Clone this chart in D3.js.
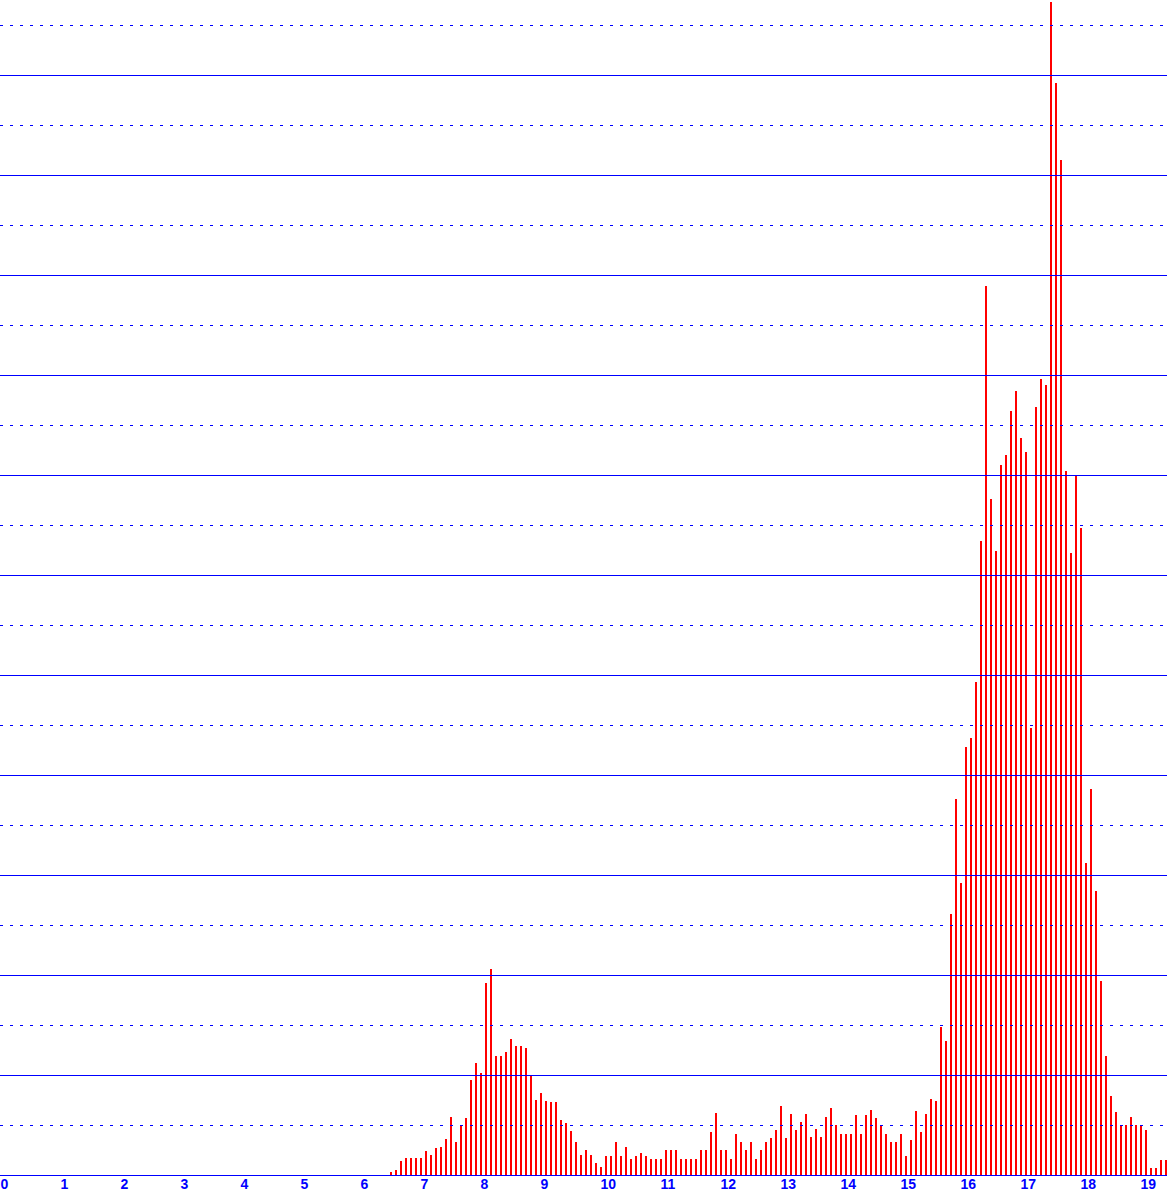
<!DOCTYPE html>
<html>
<head>
<meta charset="utf-8">
<script src="https://cdn.jsdelivr.net/npm/d3@7"></script>
<style>
  html, body { margin: 0; padding: 0; background: #fff; }
  svg { display: block; }
</style>
</head>
<body>
<script>
// ---- data ----
const binStep = 1 / 12;          // width of one bin in x units
const firstBin = 6.5;            // x value of the first non-empty bin
const counts = [
  0.3, 0.5, 1.4, 1.7, 1.7, 1.7, 1.7, 2.4, 2.0, 2.7, 2.8, 3.6,
  5.8, 3.3, 5.0, 5.7, 9.5, 11.2, 10.2, 19.2, 20.6, 11.9, 11.9, 12.3,
  13.6, 12.9, 12.9, 12.7, 9.9, 7.5, 8.2, 7.4, 7.3, 7.3, 5.5, 5.2,
  4.4, 3.3, 2.0, 2.5, 2.0, 1.2, 0.8, 1.9, 1.9, 3.3, 1.9, 2.8,
  1.6, 1.9, 2.2, 1.9, 1.6, 1.6, 1.6, 2.5, 2.5, 2.5, 1.6, 1.6,
  1.6, 1.6, 2.5, 2.5, 4.3, 6.2, 2.5, 2.5, 1.6, 4.1, 3.3, 2.5,
  3.3, 1.6, 2.5, 3.3, 3.7, 4.5, 6.9, 3.7, 6.1, 4.5, 5.3, 6.1,
  3.8, 4.6, 3.8, 5.8, 6.7, 5.0, 4.1, 4.1, 4.1, 6.0, 4.1, 6.0,
  6.5, 5.7, 4.9, 4.1, 3.3, 3.3, 4.1, 1.9, 3.5, 6.4, 4.3, 6.1,
  7.6, 7.4, 14.8, 13.4, 26.1, 37.6, 29.2, 42.8, 43.7, 49.3, 63.4, 88.9,
  67.6, 62.4, 71.0, 72.0, 76.4, 78.4, 73.7, 72.3, 44.7, 76.8, 79.6, 79.0,
  117.3, 109.2, 101.5, 70.4, 62.2, 70.0, 64.7, 31.2, 38.6, 28.4, 19.4, 11.9,
  7.9, 6.3, 5.0, 5.0, 5.8, 5.0, 5.0, 4.5, 0.75, 0.75, 1.5, 1.5
];
const xTickLabels = ["0","1","2","3","4","5","6","7","8","9","10","11","12","13","14","15","16","17","18","19"];
const majorGrid = [10, 20, 30, 40, 50, 60, 70, 80, 90, 100, 110];
const minorGrid = [5, 15, 25, 35, 45, 55, 65, 75, 85, 95, 105, 115];

// ---- layout ----
const W = 1167, H = 1195;
const baseY = 1175;
const blue = "#0000ff", red = "#ff0000";

const svg = d3.select("body").append("svg")
  .attr("width", W).attr("height", H)
  .attr("shape-rendering", "crispEdges");

const x = d3.scaleLinear().domain([0, W / 60]).range([0, W]);
const y = d3.scaleLinear().domain([0, 117.5]).range([baseY, 0]);

const bins = counts.map((v, i) => ({ x: firstBin + i * binStep, v }));

// bars
svg.append("g").selectAll("rect").data(bins).join("rect")
  .attr("x", d => Math.round(x(d.x)))
  .attr("width", 2)
  .attr("y", d => Math.round(y(d.v)))
  .attr("height", d => baseY - Math.round(y(d.v)))
  .attr("fill", red);

// grid lines (drawn over the bars)
svg.append("g").selectAll("line").data(majorGrid).join("line")
  .attr("x1", 0).attr("x2", W)
  .attr("y1", d => y(d) + 0.5).attr("y2", d => y(d) + 0.5)
  .attr("stroke", blue).attr("stroke-width", 1);

svg.append("g").selectAll("line").data(minorGrid).join("line")
  .attr("x1", 0).attr("x2", W)
  .attr("y1", d => y(d) + 0.5).attr("y2", d => y(d) + 0.5)
  .attr("stroke", blue).attr("stroke-width", 1)
  .attr("stroke-dasharray", "3,7");

// baseline
svg.append("line")
  .attr("x1", 0).attr("x2", W)
  .attr("y1", baseY + 0.5).attr("y2", baseY + 0.5)
  .attr("stroke", blue).attr("stroke-width", 1);

// x labels
svg.append("g").selectAll("text").data(xTickLabels).join("text")
  .attr("x", (d, i) => x(i) + 0.5)
  .attr("y", 1188.5)
  .attr("text-anchor", "start")
  .attr("fill", blue)
  .attr("font-family", "'Liberation Sans', Arial, sans-serif")
  .attr("font-weight", "bold")
  .attr("font-size", 14)
  .text(d => d);
</script>
</body>
</html>
